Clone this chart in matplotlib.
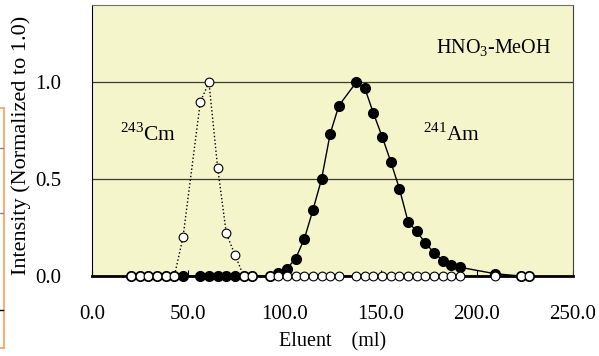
import matplotlib
matplotlib.use('Agg')
import matplotlib.pyplot as plt
from matplotlib.lines import Line2D

plt.rcParams['font.family'] = ['Liberation Serif', 'DejaVu Serif']
plt.rcParams['mathtext.fontset'] = 'custom'
plt.rcParams['mathtext.rm'] = 'Liberation Serif'

# Eluent volume of each fraction (ml)
eluent = [20.3, 24.8, 29.3, 33.8, 38.3, 42.8, 47.3, 56.3, 60.8, 65.3, 69.8, 74.3,
          78.8, 83.3, 92.3, 96.8, 101.3, 105.8, 110.3, 114.8, 119.3, 123.8, 128.3,
          137.3, 141.8, 146.3, 150.8, 155.3, 159.8, 164.3, 168.8, 173.3, 177.8,
          182.3, 186.8, 191.3, 209.3, 222.8, 227.3]

# 243Cm (open circles)
cm = [0, 0, 0, 0, 0, 0, 0.20, 0.90, 1.00, 0.56, 0.22, 0.11,
      0, 0, 0, 0, 0, 0, 0, 0, 0, 0, 0,
      0, 0, 0, 0, 0, 0, 0, 0, 0, 0,
      0, 0, 0, 0, 0, 0]

# 241Am (filled circles)
am = [0, 0, 0, 0, 0, 0, 0, 0, 0, 0, 0, 0,
      0, 0, 0, 0.017, 0.038, 0.09, 0.19, 0.34, 0.50, 0.735, 0.88,
      1.00, 0.97, 0.84, 0.72, 0.59, 0.45, 0.28, 0.23, 0.17, 0.12,
      0.08, 0.055, 0.045, 0.012, 0, 0]

fig = plt.figure(figsize=(5.99, 3.56), dpi=100)
ax = fig.add_axes([92 / 599, 1 - 276 / 356, 481 / 599, 271 / 356])
ax.set_facecolor('#F4F5CA')

ax.plot(eluent, am, '-', color='black', lw=1.0, marker='o', ms=7,
        mfc='black', mec='black', clip_on=False, zorder=3)
ax.plot(eluent, cm, ':', color='black', lw=1.0, marker='o', ms=6.3,
        mfc='white', mec='black', mew=0.8, clip_on=False, zorder=4)

ax.set_xlim(0, 250)
ax.set_ylim(0, 1.4)
ax.set_xticks([0, 50, 100, 150, 200, 250])
ax.set_xticklabels(['0.0', '50.0', '100.0', '150.0', '200.0', '250.0'])
ax.set_yticks([0, 0.5, 1.0])
ax.set_yticklabels(['0.0', '0.5', '1.0'])
ax.tick_params(axis='x', direction='in', length=4, width=0.8, pad=21, labelsize=15)
ax.tick_params(axis='y', length=0, pad=22, labelsize=15)
ax.yaxis.grid(True, color='#3c3c30', lw=0.9)
ax.set_axisbelow(True)

ax.spines['top'].set_color('#707070')
ax.spines['right'].set_color('#404040')
ax.spines['left'].set_color('black')
ax.spines['bottom'].set_linewidth(2.0)

ax.set_xlabel('Eluent    (ml)', fontsize=14.5, labelpad=6)
ax.set_ylabel('Intensity (Normalized to 1.0)', fontsize=16)
ax.yaxis.set_label_coords(-0.127, 0.483)

ax.text(14.6, 0.73, r'$^{\mathrm{243}}$Cm', fontsize=15.5, va='center', ha='left')
ax.text(172, 0.73, r'$^{\mathrm{241}}$Am', fontsize=15.5, va='center', ha='left')
ax.text(179, 1.175, r'HNO$_{\mathrm{3}}$-MeOH', fontsize=14.5, va='center', ha='left')

# cropped frame edge at the left border
W, H = 599, 356
orange = '#F5A05A'
fig.add_artist(Line2D([3.5 / W, 3.5 / W], [1 - 108 / H, 1 - 348 / H], color=orange, lw=1.2))
fig.add_artist(Line2D([0, 4 / W], [1 - 108 / H, 1 - 108 / H], color=orange, lw=1.2))
fig.add_artist(Line2D([0, 4 / W], [1 - 348 / H, 1 - 348 / H], color=orange, lw=1.2))
for yy, c in [(148, '#888888'), (213, '#888888'), (310, 'black')]:
    fig.add_artist(Line2D([0, 3 / W], [1 - yy / H, 1 - yy / H], color=c, lw=1.0))

fig.savefig('out.png', dpi=100)
